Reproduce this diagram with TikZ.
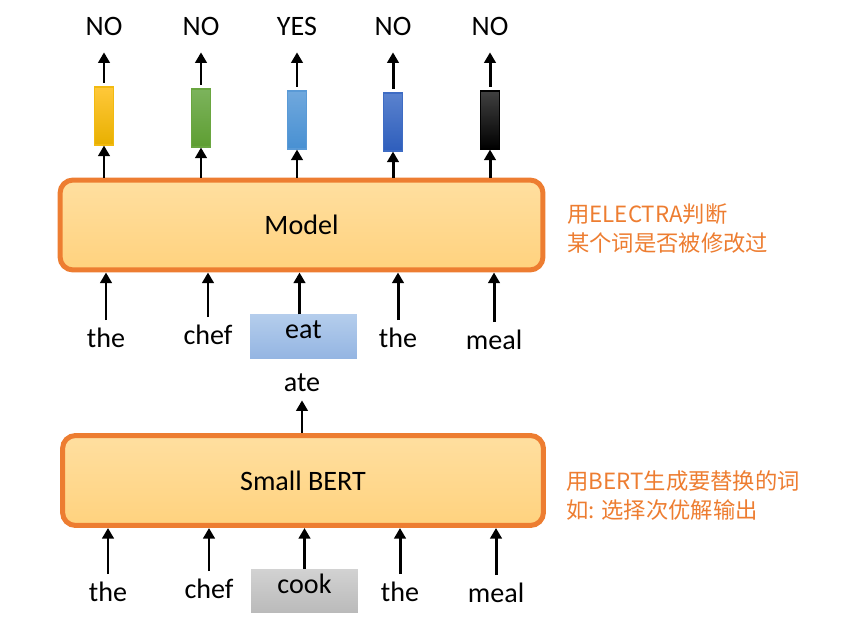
\documentclass[tikz,border=0pt]{standalone}
\usepackage{fontspec}
\setmainfont{Carlito}
\newfontfamily\cjk{Noto Sans CJK SC}
\usepackage{xcolor}
\usepackage{tikz}
\usetikzlibrary{arrows.meta}
\usetikzlibrary{positioning}

\definecolor{frame_orange}{HTML}{ED7D31}
\definecolor{fill_top}{HTML}{FFDFA0}
\definecolor{fill_bot}{HTML}{FFD27E}
\definecolor{eat_top}{HTML}{B4CDEC}
\definecolor{eat_bot}{HTML}{94B5E2}
\definecolor{cook_top}{HTML}{D2D2D2}
\definecolor{cook_bot}{HTML}{BABABA}
% colori delle barre di uscita
\definecolor{top1}{HTML}{FFC83A}\definecolor{bot1}{HTML}{E8B000}\definecolor{edge1}{HTML}{F2BA10}
\definecolor{top2}{HTML}{7CB35C}\definecolor{bot2}{HTML}{5E9E32}\definecolor{edge2}{HTML}{6AA640}
\definecolor{top3}{HTML}{70A8DD}\definecolor{bot3}{HTML}{4890D2}\definecolor{edge3}{HTML}{5A9AD6}
\definecolor{top4}{HTML}{5A82CE}\definecolor{bot4}{HTML}{2E5EBC}\definecolor{edge4}{HTML}{3E6CC4}
\definecolor{top5}{HTML}{404040}\definecolor{bot5}{HTML}{000000}\definecolor{edge5}{HTML}{000000}

\begin{document}
\begin{tikzpicture}[
      x=0.02cm, y=-0.02cm,
      lbl/.style={font=\fontsize{16}{19}\selectfont, inner sep=1pt},
      note_lbl/.style={font=\cjk\fontsize{12.7}{16.8}\selectfont, text=frame_orange, align=left, anchor=west, inner sep=0pt},
      block_style/.style={draw=frame_orange, line width=0.1cm, rounded corners=0.26cm,
        top color=fill_top, bottom color=fill_bot, minimum height=1.8cm,
        font=\fontsize{16}{19}\selectfont},
      bar_style/.style={minimum width=0.38cm, minimum height=1.16cm, inner sep=0pt, line width=0.6pt},
      token_box/.style={lbl, minimum width=2.14cm, minimum height=0.87cm, inner sep=0pt},
      arr/.style={line width=1.7pt, -{Triangle[length=6pt,width=6.5pt]}}
  ]
  \useasboundingbox (0,0) rectangle (851,618);

  % 1. Blocchi principali
  \node[block_style, minimum width=9.66cm] (model) at (301.5,225) {Model};
  \node[block_style, minimum width=9.62cm] (small) at (303,480.5) {Small BERT};

  % 2. Note a destra
  \node[note_lbl] (note_top) at (567,228.5) {用ELECTRA判断\\某个词是否被修改过};
  \node[note_lbl] (note_bot) at (566,495.5) {用BERT生成要替换的词\\如: 选择次优解输出};

  % 3. Barre colorate e uscite
  \foreach \i/\x/\y/\t in {1/104/116/NO, 2/201/118/NO, 3/297/120/YES, 4/393/122/NO, 5/490/120/NO} {
    \node[bar_style, draw=edge\i, top color=top\i, bottom color=bot\i] (bar\i) at (\x,\y) {};
    \node[lbl, anchor=base] (out\i) at (\x,36) {\t};
    \draw[arr, shorten <=2pt, shorten >=8pt] (bar\i.north) -- (out\i.south);
    \draw[arr] (bar\i.south |- model.north) -- (bar\i.south);
  }

  % 4. Frase corrotta sopra Small BERT
  \node[token_box, top color=eat_top, bottom color=eat_bot,
    text height=0.21cm, text depth=0.14cm] (eat) at (303.5,336.5) {eat};
  \foreach \i/\x/\y/\w in {1/106/347/the, 2/208/344/chef, 4/398/347/the, 5/494/349/meal}
    \node[lbl, anchor=base] (up\i) at (\x,\y) {\w};
  \foreach \i in {1,2,4,5}
    \draw[arr, shorten <=3pt] (up\i.north) -- (up\i.north |- model.south);
  \draw[arr] ([xshift=-0.08cm]eat.north) -- ([xshift=-0.08cm]eat.north |- model.south);

  \node[lbl, anchor=base] (ate) at (302,391) {ate};
  \draw[arr, shorten >=4pt] (small.north -| ate.south) -- (ate.south);

  % 5. Frase originale
  \node[token_box, top color=cook_top, bottom color=cook_bot,
    text height=0.22cm, text depth=0.14cm] (cook) at (304.5,591) {cook};
  \foreach \i/\x/\y/\w in {1/108/601/the, 2/209/598/chef, 4/400/601/the, 5/496/602/meal}
    \node[lbl, anchor=base] (low\i) at (\x,\y) {\w};
  \foreach \i in {1,2,4,5}
    \draw[arr, shorten <=3pt] (low\i.north) -- (low\i.north |- small.south);
  \draw[arr] (cook.north) -- (cook.north |- small.south);

\end{tikzpicture}
\end{document}
